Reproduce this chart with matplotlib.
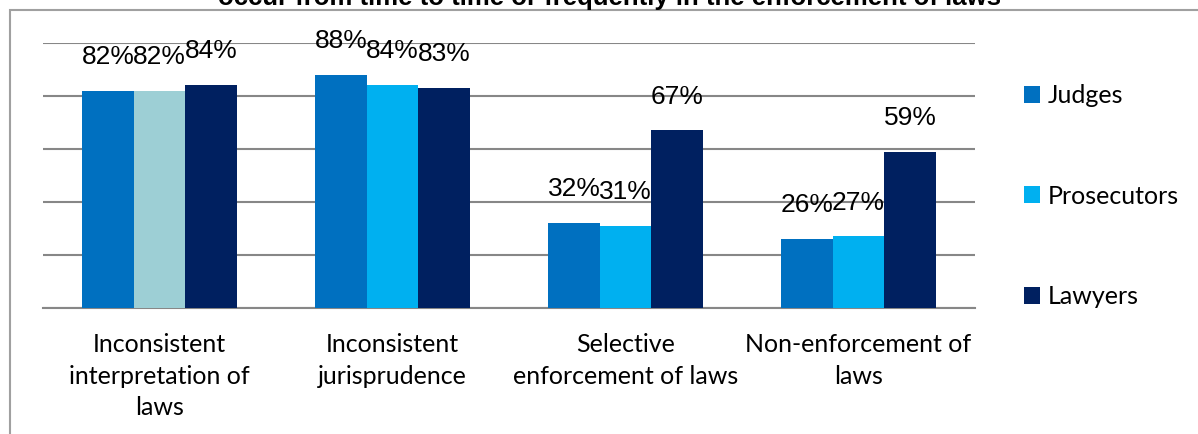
import matplotlib
matplotlib.use("Agg")
import matplotlib.pyplot as plt
import numpy as np
from matplotlib.patches import Patch, Rectangle

categories = ["Inconsistent\ninterpretation of\nlaws", "Inconsistent\njurisprudence",
              "Selective\nenforcement of laws", "Non-enforcement of\nlaws"]
series = ["Judges", "Prosecutors", "Lawyers"]
judges = [82, 88, 32, 26]
prosecutors = [82, 84, 31, 27]
lawyers = [84, 83, 67, 59]
values = [judges, prosecutors, lawyers]
colors = ["#0070C0", "#00B0F0", "#002060"]
# the first Prosecutors bar is drawn in a different (teal) colour in the original
first_prosecutor_color = "#9DCFD5"
title = "occur from time to time or frequently in the enforcement of laws"

W, H = 1198, 434
fig = plt.figure(figsize=(W / 100, H / 100), dpi=100)
ax = fig.add_axes([43 / W, (H - 308) / H, (975 - 43) / W, (308 - 43) / H])

x = np.arange(len(categories))
bw = 0.221
for i, (vals, c) in enumerate(zip(values, colors)):
    cols = [c] * len(vals)
    if i == 1:
        cols[0] = first_prosecutor_color
    pos = x + (i - 1) * bw
    ax.bar(pos, vals, width=bw, color=cols, zorder=3, edgecolor='none')
    for px, v in zip(pos, vals):
        ax.annotate(f"{v}%", (px, v), xytext=(0, 19.4), textcoords='offset points',
                    ha='center', va='baseline', fontsize=19, family='Liberation Sans',
                    color='black', zorder=5)

ax.set_xlim(-0.5, 3.5)
ax.set_ylim(0, 100)
ax.set_yticks(np.arange(0, 101, 20))
ax.yaxis.grid(True, color='#878787', linewidth=1.5, zorder=0)
ax.tick_params(axis='y', length=0, labelleft=False)
ax.set_xticks(x)
ax.set_xticklabels(categories, fontsize=18, family='Lato', linespacing=1.45)
ax.tick_params(axis='x', length=0, pad=18)
for s in ['top', 'right', 'left']:
    ax.spines[s].set_visible(False)
ax.spines['bottom'].set_color('#878787')
ax.spines['bottom'].set_linewidth(1.5)
ax.set_facecolor('none')

handles = [Patch(facecolor=c, edgecolor='none') for c in colors]
leg = fig.legend(handles, series, loc='upper left', bbox_to_anchor=(1024 / W, (H - 84) / H),
                 frameon=False, prop={'family': 'Lato', 'size': 18},
                 handlelength=0.65, handleheight=0.65, handletextpad=0.3,
                 labelspacing=3.1, borderpad=0, borderaxespad=0)

# outer chart border (extends beyond the image)
border = Rectangle((10 / W, -0.1), 1.2, (H - 10) / H + 0.1, transform=fig.transFigure,
                   fill=False, edgecolor='#A0A0A0', linewidth=1.5)
fig.add_artist(border)

fig.text(610 / W, (H - 5) / H, title, ha='center', va='baseline', fontsize=18.5,
         fontweight='bold', family='Liberation Sans')

fig.savefig("out.png", dpi=100)
